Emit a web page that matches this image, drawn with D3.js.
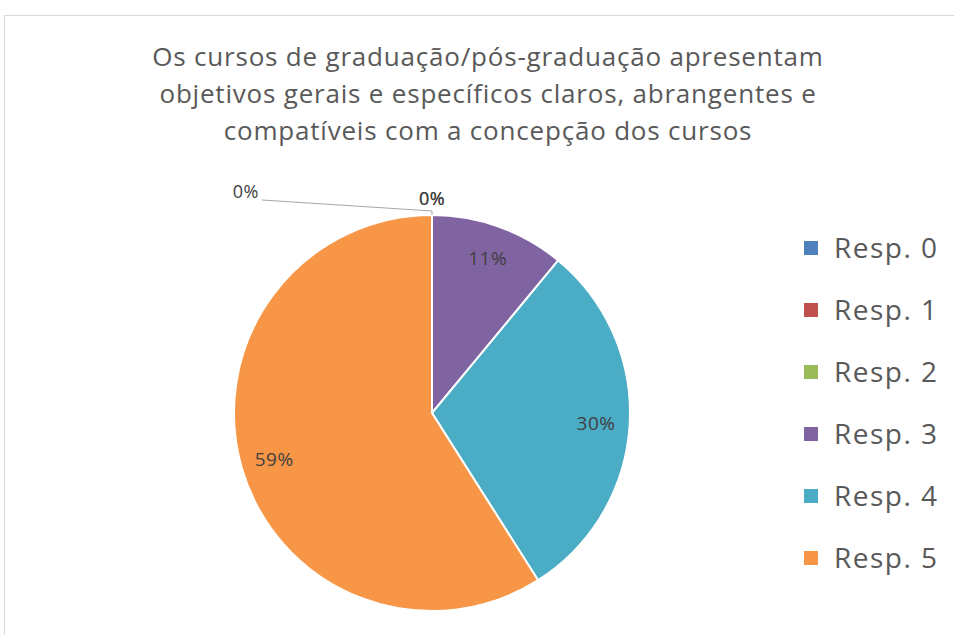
<!DOCTYPE html>
<html lang="pt">
<head>
  <meta charset="UTF-8">
  <title>Pie chart</title>
  <script src="https://d3js.org/d3.v7.min.js"></script>
  <style>
    body { margin: 0; background: #fff; }
    svg { display: block; font-family: "Open Sans", "Noto Sans", sans-serif; }
  </style>
</head>
<body>
  <div id="chart"></div>
  <script>
    // chart data
    const categories = ["Resp. 0", "Resp. 1", "Resp. 2", "Resp. 3", "Resp. 4", "Resp. 5"];
    const values = [0, 0, 0, 11, 30, 59];
    const colors = ["#4F81BD", "#C0504D", "#9BBB59", "#8064A2", "#4BACC6", "#F79646"];
    const titleLines = [
      "Os cursos de graduação/pós-graduação apresentam",
      "objetivos gerais e específicos claros, abrangentes e",
      "compatíveis com a concepção dos cursos"
    ];

    const width = 954, height = 635;
    const cx = 432, cy = 413, r = 198;

    const svg = d3.select("#chart").append("svg")
      .attr("width", width)
      .attr("height", height);

    // chart area frame (top and left edges visible)
    svg.append("rect")
      .attr("x", 4.5).attr("y", 15.5)
      .attr("width", 1000).attr("height", 700)
      .attr("fill", "#fff")
      .attr("stroke", "#d9d9d9");

    // title
    const title = svg.append("text")
      .attr("text-anchor", "middle")
      .attr("fill", "#595959")
      .style("font-size", "26px")
      .style("letter-spacing", "0.8px");
    titleLines.forEach((t, i) => {
      title.append("tspan")
        .attr("x", 488)
        .attr("y", 66 + i * 37)
        .text(t);
    });

    const pie = d3.pie().sort(null).value(d => d.value);
    const arcs = pie(categories.map((c, i) => ({name: c, value: values[i], color: colors[i]})));

    const arc = d3.arc().innerRadius(0).outerRadius(r);
    const labelArc = d3.arc().innerRadius(r * 0.83).outerRadius(r * 0.83);

    const g = svg.append("g").attr("transform", `translate(${cx},${cy})`);

    g.selectAll("path")
      .data(arcs.filter(d => d.value > 0))
      .join("path")
      .attr("d", arc)
      .attr("fill", d => d.data.color)
      .attr("stroke", "#fff")
      .attr("stroke-width", 2);

    const total = d3.sum(values);
    const fmt = d => Math.round(d.value / total * 100) + "%";

    // labels for non-zero slices
    g.selectAll("text.lbl")
      .data(arcs.filter(d => d.value > 0))
      .join("text")
      .attr("class", "lbl")
      .attr("transform", d => `translate(${labelArc.centroid(d)})`)
      .attr("text-anchor", "middle")
      .attr("dy", "0.35em")
      .attr("fill", "#404040")
      .style("font-size", "19px")
      .style("letter-spacing", "0.5px")
      .text(fmt);

    // zero slices: first one pulled out with a leader line, the rest above the top
    const zeros = arcs.filter(d => d.value === 0);
    zeros.forEach((d, i) => {
      const a = d.startAngle;
      const px = Math.sin(a) * r, py = -Math.cos(a) * r;
      if (i === 0) {
        const lx = px - 170, ly = py - 15;
        g.append("path")
          .attr("d", `M${px},${py} L${px},${py - 4} L${lx},${ly}`)
          .attr("fill", "none")
          .attr("stroke", "#a6a6a6")
          .attr("stroke-width", 1);
        g.append("text")
          .attr("x", lx - 3).attr("y", ly - 2)
          .attr("text-anchor", "end")
          .attr("fill", "#404040")
          .style("font-size", "18px")
          .style("letter-spacing", "0.5px")
          .text(fmt(d));
      } else {
        g.append("text")
          .attr("x", px).attr("y", py - 10)
          .attr("text-anchor", "middle")
          .attr("fill", "#404040")
          .style("font-size", "18px")
          .style("letter-spacing", "0.5px")
          .text(fmt(d));
      }
    });

    // legend
    const legend = svg.append("g").attr("transform", "translate(804,248)");
    const item = legend.selectAll("g")
      .data(categories)
      .join("g")
      .attr("transform", (d, i) => `translate(0,${i * 62})`);
    item.append("rect")
      .attr("x", 0).attr("y", -7)
      .attr("width", 14).attr("height", 14)
      .attr("fill", (d, i) => colors[i]);
    item.append("text")
      .attr("x", 30)
      .attr("dy", "0.36em")
      .attr("fill", "#595959")
      .style("font-size", "28px")
      .style("letter-spacing", "1.5px")
      .text(d => d);
  </script>
</body>
</html>
